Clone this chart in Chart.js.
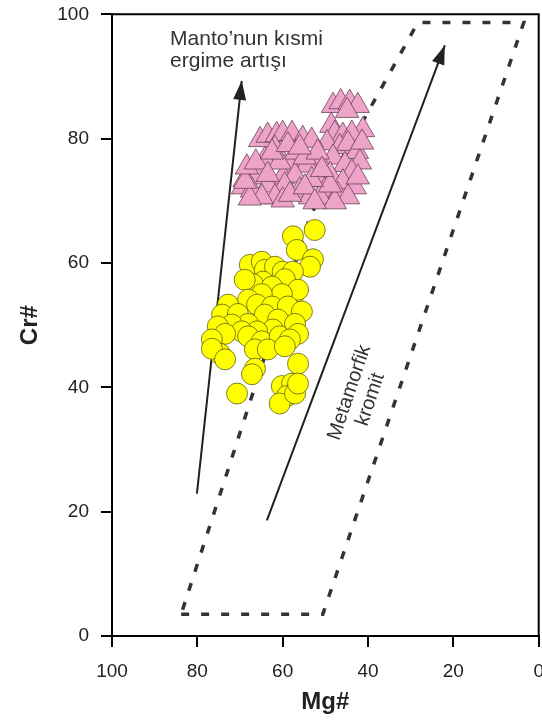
<!DOCTYPE html>
<html>
<head>
<meta charset="utf-8">
<script src="https://cdn.jsdelivr.net/npm/chart.js@4.4.0/dist/chart.umd.min.js"></script>
<style>
  body { margin: 0; background: #fff; overflow: hidden; }
  canvas { display: block; }
</style>
</head>
<body>
<canvas id="grafik" width="553" height="724"></canvas>
<script>
// yellow circles (kromit)
const daireMg = [52.5, 57.6, 56.7, 52.9, 53.6, 67.7, 64.9, 64.2, 61.8, 60.0,
  57.6, 59.5, 64.6, 67.0, 68.9, 62.5, 57.6, 56.4, 60.2, 64.9,
  68.1, 66.0, 72.8, 74.2, 70.5, 62.5, 58.8, 55.5, 64.2, 68.1,
  71.9, 75.2, 61.1, 57.1, 56.4, 62.3, 66.0, 69.6, 73.5, 76.6,
  74.7, 76.6, 73.5, 68.1, 64.9, 60.7, 58.3, 66.5, 63.5, 59.5,
  66.5, 67.2, 56.4, 70.7, 60.2, 57.8, 59.0, 60.7, 57.1, 56.4];
const daireCr = [65.3, 64.3, 62.1, 60.6, 59.4, 59.7, 60.2, 58.9, 59.4, 58.6,
  58.6, 57.4, 57.0, 56.6, 57.3, 56.2, 54.6, 55.7, 55.0, 55.0,
  54.1, 53.3, 53.3, 51.7, 51.8, 53.0, 53.0, 52.2, 51.7, 50.2,
  50.1, 49.8, 50.9, 50.2, 48.6, 49.3, 49.0, 49.0, 48.6, 47.7,
  45.4, 46.2, 44.5, 48.2, 47.4, 48.2, 47.7, 46.1, 46.1, 46.6,
  43.0, 42.1, 43.8, 39.0, 40.2, 40.6, 38.6, 37.4, 39.0, 40.6];

// pink triangles
const ucgenMg = [48.2, 46.4, 44.3, 42.4, 44.9, 48.6, 41.2,
  47.8, 45.9, 43.8, 49.6, 46.6, 44.7, 42.6, 41.9, 48.2, 51.3,
  45.4, 43.8, 48.9, 51.8, 45.9, 43.1, 50.1, 47.1, 44.7, 51.3,
  47.8, 41.4, 42.4, 48.9,
  65.3, 63.5, 61.4, 60.0, 57.8, 55.3, 53.2, 61.8, 64.2, 58.3,
  54.3, 68.9, 66.0, 60.0, 57.1, 53.2, 63.5, 59.5, 69.3, 67.2,
  56.0, 61.8, 60.0, 53.6, 64.9, 67.7, 56.9, 54.8, 51.8, 60.7,
  68.8, 68.4, 66.3, 62.5, 58.8, 56.0, 63.5, 58.3, 54.8, 50.8, 52.5];
const ucgenCr = [85.3, 85.9, 85.8, 85.3, 84.5, 82.1, 81.4,
  80.8, 80.5, 80.8, 79.3, 78.7, 79.2, 77.9, 76.2, 77.0, 76.2,
  75.8, 74.6, 74.2, 73.3, 73.0, 72.2, 71.7, 71.0, 70.6, 70.6,
  69.8, 79.4, 73.8, 72.5,
  79.8, 80.5, 80.6, 80.8, 80.8, 80.0, 79.7, 78.4, 76.6, 75.7,
  75.7, 73.4, 73.8, 73.8, 74.1, 73.4, 72.5, 72.5, 72.2, 71.7,
  71.7, 70.6, 70.1, 70.6, 70.6, 70.4, 77.8, 77.0, 77.8, 76.2,
  73.1, 75.4, 76.2, 77.8, 79.0, 78.6, 74.2, 71.0, 72.2, 75.0, 69.8];

// metamorfik kromit alani (kesikli)
const alanMg = [83.8, 50.6, 3.5, 28.3, 53.4, 83.8];
const alanCr = [3.5, 3.5, 98.7, 98.7, 67.8, 3.5];

// oklar
const okSolMg = [80.1, 69.6];
const okSolCr = [22.9, 89.3];
const okSagMg = [63.7, 22.0];
const okSagCr = [18.6, 95.0];

const eksenTikleri = [0, 20, 40, 60, 80, 100];

const nokta = (xs, ys) => xs.map((x, i) => ({ x, y: ys[i] }));

const cizimEkleri = {
  id: 'cizimEkleri',
  afterDatasetsDraw(chart) {
    const ctx = chart.ctx;
    [2, 3].forEach((i) => {
      const pts = chart.getDatasetMeta(i).data;
      const uc = pts[pts.length - 1];
      const onceki = pts[pts.length - 2];
      const a = Math.atan2(uc.y - onceki.y, uc.x - onceki.x);
      ctx.save();
      ctx.translate(uc.x, uc.y);
      ctx.rotate(a);
      ctx.fillStyle = '#222';
      ctx.beginPath();
      ctx.moveTo(0, 0);
      ctx.lineTo(-19, -6.5);
      ctx.lineTo(-19, 6.5);
      ctx.closePath();
      ctx.fill();
      ctx.restore();
    });
  },
  afterDraw(chart) {
    const { ctx, chartArea, scales } = chart;
    const x = scales.x, y = scales.y;
    ctx.save();
    ctx.strokeStyle = '#000';
    ctx.lineWidth = 2;
    ctx.beginPath();
    ctx.moveTo(chartArea.left, chartArea.top);
    ctx.lineTo(chartArea.right, chartArea.top);
    ctx.lineTo(chartArea.right, chartArea.bottom);
    ctx.stroke();

    ctx.fillStyle = '#333';
    ctx.font = '21px "Liberation Sans", Arial, sans-serif';
    ctx.textAlign = 'left';
    ctx.textBaseline = 'alphabetic';
    const mx = x.getPixelForValue(86.4);
    const my = y.getPixelForValue(95.0);
    ctx.fillText('Manto’nun kısmi', mx, my);
    ctx.fillText('ergime artışı', mx, my + 22);

    ctx.translate(x.getPixelForValue(41.9), y.getPixelForValue(38.6));
    ctx.rotate(-71.4 * Math.PI / 180);
    ctx.font = '20px "Liberation Sans", Arial, sans-serif';
    ctx.textAlign = 'center';
    ctx.textBaseline = 'middle';
    ctx.fillText('Metamorfik', 0, -11);
    ctx.fillText('kromit', 0, 11);
    ctx.restore();
  }
};

const ctx = document.getElementById('grafik').getContext('2d');
const grafik = new Chart(ctx, {
  type: 'scatter',
  data: {
    datasets: [
      {
        label: 'daire',
        data: nokta(daireMg, daireCr),
        pointRadius: 10.5,
        backgroundColor: '#ffff00',
        borderColor: '#5e5e12',
        borderWidth: 0.8,
      },
      {
        label: 'ucgen',
        data: nokta(ucgenMg, ucgenCr),
        pointStyle: 'triangle',
        pointRadius: 13.5,
        backgroundColor: '#eea3c9',
        borderColor: '#6b4458',
        borderWidth: 0.8,
      },
      {
        type: 'line',
        data: nokta(okSolMg, okSolCr),
        borderColor: '#222',
        borderWidth: 2,
        pointRadius: 0,
      },
      {
        type: 'line',
        data: nokta(okSagMg, okSagCr),
        borderColor: '#222',
        borderWidth: 2,
        pointRadius: 0,
      },
      {
        type: 'line',
        data: nokta(alanMg, alanCr),
        borderColor: '#333',
        borderWidth: 3.5,
        borderDash: [8, 12],
        pointRadius: 0,
      },
    ],
  },
  options: {
    responsive: false,
    animation: false,
    devicePixelRatio: 1,
    layout: { padding: { top: 11, right: 3, left: 0, bottom: 0 } },
    plugins: { legend: { display: false }, tooltip: { enabled: false } },
    scales: {
      x: {
        type: 'linear',
        reverse: true,
        min: 0,
        max: 100,
        afterBuildTicks: (s) => { s.ticks = eksenTikleri.map((v) => ({ value: v })); },
        afterFit: (s) => { s.height = 88; s.paddingLeft = 0; s.paddingRight = 0; },
        grid: { drawOnChartArea: false, color: '#000', lineWidth: 2, tickLength: 11 },
        border: { color: '#000', width: 2 },
        ticks: { color: '#222', font: { family: '"Liberation Sans", Arial', size: 19 }, padding: 13, maxRotation: 0 },
        title: { display: true, text: 'Mg#', color: '#222', font: { family: '"Liberation Sans", Arial', size: 24, weight: 'bold' }, padding: { bottom: 7 } },
      },
      y: {
        min: 0,
        max: 100,
        afterBuildTicks: (s) => { s.ticks = eksenTikleri.map((v) => ({ value: v })); },
        afterFit: (s) => { s.width = 112; s.paddingTop = 0; s.paddingBottom = 0; },
        grid: { drawOnChartArea: false, color: '#000', lineWidth: 2, tickLength: 11 },
        border: { color: '#000', width: 2 },
        ticks: { color: '#222', font: { family: '"Liberation Sans", Arial', size: 19 }, padding: 12 },
        title: { display: true, text: 'Cr#', color: '#222', font: { family: '"Liberation Sans", Arial', size: 24, weight: 'bold' }, padding: { top: 16 } },
      },
    },
  },
  plugins: [cizimEkleri],
});
</script>
</body>
</html>
